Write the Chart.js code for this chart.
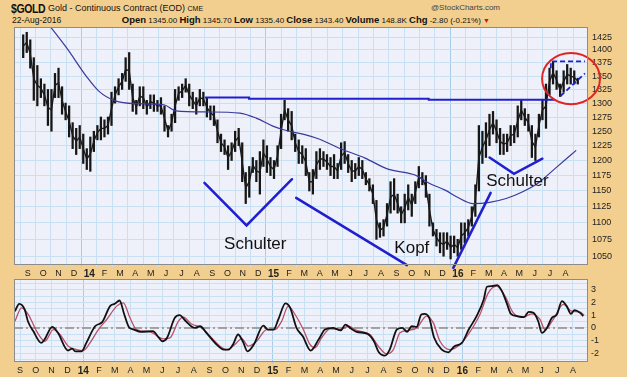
<!DOCTYPE html>
<html>
<head>
<meta charset="utf-8">
<script src="https://cdn.jsdelivr.net/npm/chart.js@4.4.1/dist/chart.umd.min.js"></script>
<style>
  body { margin: 0; width: 627px; height: 377px; overflow: hidden; position: relative;
         background: #f3cf8f; font-family: "Liberation Sans", Arial, sans-serif; }
  canvas { position: absolute; left: 0; }
  #main { top: 0; }
  #osc { top: 268px; }
  .t { position: absolute; white-space: nowrap; color: #111; }
  .t b { font-size: 9.5px; }
</style>
</head>
<body>
<div class="t" style="left:11px;top:1px;font-size:10.5px;font-weight:bold;letter-spacing:-0.4px;transform:scaleY(1.15);transform-origin:0 0">$GOLD</div>
<div class="t" style="left:48px;top:3px;font-size:9px">Gold - Continuous Contract (EOD) <span style="font-size:7px">CME</span></div>
<div class="t" style="left:431px;top:3px;font-size:8px;color:#444">@StockCharts.com</div>
<div class="t" style="left:12px;top:15px;font-size:8.5px">22-Aug-2016</div>
<div class="t" style="right:137px;top:14px;font-size:8px"><b>Open</b> 1345.00 <b>High</b> 1345.70 <b>Low</b> 1335.40 <b>Close</b> 1343.40 <b>Volume</b> 148.8K <b>Chg</b> -2.80 (-0.21%) <span style="color:#d01010;font-size:7px">&#9660;</span></div>

<canvas id="main" width="627" height="280" style="width:627px;height:280px"></canvas>
<canvas id="osc" width="627" height="109" style="width:627px;height:109px"></canvas>

<script>
// x unit: months since 1 Sep 2013
const tickLabels = ["S","O","N","D","14","F","M","A","M","J","J","A",
                    "S","O","N","D","15","F","M","A","M","J","J","A",
                    "S","O","N","D","16","F","M","A","M","J","J","A"]
const priceTicks = [1050,1075,1100,1125,1150,1175,1200,1225,1250,1275,1300,1325,1350,1375,1400,1425]
const oscTicks = [-2.5,-2,-1.5,-1,-0.5,0,0.5,1,1.5,2,2.5,3,3.5]

// weekly high / low, first week ending 23 Aug 2013
const weekStart = -0.3
const weekHigh = [1430,1435,1420,1385,1370,1345,1335,1325,1325,1355,1365,1330,1300,1295,1265,1255,1260,1245,1220,1240,
  1250,1260,1275,1270,1275,1320,1330,1345,1355,1385,1395,1335,1305,1330,1330,1305,1315,1315,1305,1310,
  1295,1260,1280,1325,1330,1335,1345,1335,1320,1310,1325,1320,1310,1295,1295,1270,1245,1235,1225,1230,
  1250,1255,1230,1180,1190,1205,1200,1215,1235,1225,1205,1200,1225,1280,1305,1290,1285,1245,1235,1225,
  1220,1180,1185,1215,1220,1215,1210,1205,1210,1195,1230,1232,1210,1200,1195,1205,1200,1180,1170,1160,
  1135,1100,1105,1130,1165,1170,1145,1125,1145,1160,1145,1165,1190,1180,1175,1145,1100,1090,1085,1085,
  1085,1080,1080,1075,1100,1100,1105,1125,1160,1260,1250,1265,1280,1285,1270,1255,1245,1245,1260,1260,
  1295,1305,1290,1280,1260,1245,1280,1305,1335,1365,1378,1360,1335,1360,1372,1365,1360,1346]
const weekLow = [1385,1395,1365,1305,1295,1310,1295,1260,1250,1310,1310,1280,1270,1240,1220,1210,1220,1195,1185,1182,
  1215,1235,1235,1240,1245,1260,1300,1315,1325,1340,1325,1285,1280,1295,1290,1280,1290,1285,1285,1280,
  1250,1240,1250,1265,1305,1310,1320,1295,1290,1280,1295,1295,1275,1270,1260,1230,1215,1210,1185,1200,
  1215,1225,1165,1130,1140,1180,1165,1145,1190,1180,1175,1170,1190,1220,1270,1250,1235,1215,1195,1195,
  1175,1150,1145,1170,1185,1190,1185,1175,1170,1170,1185,1195,1180,1165,1170,1175,1170,1160,1150,1130,
  1075,1078,1080,1095,1115,1120,1115,1100,1100,1120,1110,1130,1155,1160,1140,1095,1080,1065,1055,1050,
  1060,1046,1055,1050,1060,1070,1080,1095,1110,1150,1195,1205,1225,1245,1230,1210,1210,1215,1225,1230,
  1240,1270,1260,1250,1205,1200,1240,1270,1255,1315,1335,1325,1312,1320,1335,1335,1335,1335]

// 200-day moving average
const maMonths = [-0.4,1.37,2.53,3.8,4.62,5.7,6.96,8.86,9.62,11.7,13.8,14.87,15.95,16.58,18.04,19,20.44,21.96,23.4,25.3,26.1,27.2,27.97,28.99,30.06,31.14,32.15,33.23,34.3,35.7]
const maValues = [1520,1450,1404,1350,1322,1304,1299,1297,1286,1284,1282,1273,1259,1253,1244,1236,1219,1204,1186,1175,1163,1151,1140,1130,1132,1138,1148,1163,1186,1217]

// momentum oscillator (black) and its signal line (red)
const oscMonths = [-0.32,-0.05,0.3,0.5,0.85,1.35,1.55,2.04,2.4,3.04,3.3,3.5,3.9,4.2,4.75,5.2,5.7,6.0,6.3,6.6,6.9,7.2,7.65,8.4,8.8,9.0,9.3,9.8,10.1,10.5,11.05,11.4,11.8,12.45,12.9,13.2,13.5,13.8,14.1,14.4,14.8,15.4,15.7,16.05,16.35,16.8,17.1,17.5,17.9,18.4,18.9,19.3,19.8,20.3,20.6,20.9,21.3,22,22.4,22.7,23.1,23.4,23.85,24.2,24.5,24.8,25.1,25.4,25.6,25.9,26.2,26.7,27.1,27.5,27.97,28.4,28.9,29.35,29.55,29.86,30.2,30.5,30.8,31.07,31.45,31.9,32.2,32.5,32.8,33.03,33.35,33.66,33.98,34.3,34.6,34.87,35.1,35.45,35.65]
const oscValues = [1.31,1.89,1.44,0.52,-0.27,-1.18,-0.92,0.08,-0.39,-1.78,-1.63,-1.84,-1.84,-1.18,0.13,0.45,1.71,1.89,2.15,1.05,0.05,-0.13,-0.31,-0.26,-0.79,-1.05,-0.79,0.79,1.0,0.52,0,0.13,-0.39,-1.31,-1.71,-1.71,-1.26,-0.52,-1.05,-1.84,-1.31,0.18,-0.13,-0.13,0.66,1.92,1.57,0,-0.66,-1.78,-0.92,-0.13,0,-0.2,0.26,0,-0.31,-0.47,-1.05,-1.89,-2.18,-1.71,-0.13,0,-0.31,0.13,0.08,1.05,1.1,0.79,-0.73,-1.71,-1.92,-1.44,-1.18,-0.13,0.92,2.23,3.23,3.28,3.36,2.89,1.97,1.1,0.92,0.84,1.26,1.18,0.52,-0.39,0,0.79,1.05,2.1,1.71,1.1,1.39,1.18,0.92]
const sigMonths = [-0.32,0.1,0.53,1.05,1.58,2.11,2.53,3.06,3.59,4.01,4.43,4.96,5.49,6.12,6.54,6.96,7.38,8.23,9.07,9.49,
  10.02,10.34,10.86,11.5,12.03,12.66,13.08,13.6,14.03,14.45,14.98,15.61,16.14,16.56,16.98,17.41,17.93,18.35,18.67,19.09,
  19.62,20.25,20.78,21.31,22.15,22.68,23.21,23.63,24.05,24.58,25.11,25.74,26.16,26.58,27.22,27.85,28.37,29.11,29.64,30.17,
  30.7,31.22,31.86,32.38,32.91,33.23,33.75,34.39,34.92,35.44,35.7]
const sigValues = [0.52,1.57,1.05,-0.26,-1.05,-0.13,-0.52,-1.44,-1.71,-1.78,-1.18,-0.13,0.66,1.71,1.97,0.79,-0.13,-0.31,-0.86,-0.79,
  0.52,0.84,0.31,0,-0.66,-1.44,-1.71,-1.31,-0.84,-1.44,-1.05,-0.13,-0.13,0.52,1.71,1.05,-0.13,-1.3,-1.57,-0.79,
  -0.08,-0.13,0.13,-0.2,-0.52,-1.44,-2.05,-1.71,-0.39,-0.2,0,0.92,0.39,-1.05,-1.71,-1.31,-0.52,1.05,2.75,3.28,
  2.49,1.18,0.84,1.1,0.66,-0.13,0.66,1.84,1.31,1.26,1.0]

// head & shoulders drawing, in (month, price)
const neckline = [[11.58,1310],[14.4,1310],[14.4,1308],[26.1,1308],[26.1,1306],[34.3,1306]]
const leftShoulderV = [[11.5,1163],[14.24,1096],[17.2,1169]]
const headLeftLine = [[17.47,1139],[24.68,1037]]
const headRightLine = [[27.7,1033],[30.13,1147]]
const rightShoulderV = [[30.06,1205],[31.65,1178],[33.5,1203]]
const wedgeTop = [[34.05,1365],[34.05,1378],[36.27,1378]]
const wedgeBottom = [[34.68,1313],[36.27,1355]]
const circleBox = [33.48, 37.25, 1298, 1394]
const labels = [["Schulter",14.81,1067],["Kopf",25.0,1061],["Schulter",31.87,1165]]

const weekX = i => weekStart + i * 7 / 30.44
const xMin = -0.38, xMax = 35.95
const tickFont = { family: "Liberation Sans, Arial", size: 9 }
const isYear = v => /^\d/.test(tickLabels[v] || "")

const plotFrame = {
  id: "plotFrame",
  beforeDraw(c) {
    const { ctx, chartArea: a } = c
    ctx.save()
    ctx.fillStyle = "#eef1f9"
    ctx.fillRect(a.left, a.top, a.width, a.height)
    ctx.restore()
  },
  afterDraw(c) {
    const { ctx, chartArea: a } = c
    ctx.save()
    ctx.strokeStyle = "#8c8c8c"
    ctx.lineWidth = 1
    ctx.strokeRect(a.left + 0.5, a.top + 0.5, a.width - 1, a.height - 1)
    ctx.restore()
  }
}

function xAxis() {
  return {
    type: "linear", min: xMin, max: xMax,
    afterBuildTicks: s => { s.ticks = tickLabels.map((_, i) => ({ value: i })) },
    afterFit: s => { s.height = 15 },
    grid: {
      color: ctx => ctx.tick && isYear(ctx.tick.value) ? "#a9cde9" : "#c9e0f2",
      tickLength: 2, drawTicks: true
    },
    border: { display: false },
    ticks: {
      autoSkip: false, maxRotation: 0, padding: 1, color: "#222",
      callback: v => tickLabels[v],
      font: ctx => ({ ...tickFont, weight: ctx.tick && isYear(ctx.tick.value) ? "bold" : "normal", size: ctx.tick && isYear(ctx.tick.value) ? 10 : 9 })
    }
  }
}

function path(ctx, c, pts) {
  const xs = c.scales.x, ys = c.scales.y
  ctx.beginPath()
  pts.forEach(([m, p], i) => {
    const X = xs.getPixelForValue(m), Y = ys.getPixelForValue(p)
    i ? ctx.lineTo(X, Y) : ctx.moveTo(X, Y)
  })
  ctx.stroke()
}

const pattern = {
  id: "pattern",
  afterDatasetsDraw(c) {
    const { ctx } = c
    const xs = c.scales.x, ys = c.scales.y
    ctx.save()
    ctx.strokeStyle = "#1f1fd0"
    ctx.lineCap = "round"
    ctx.lineWidth = 2
    path(ctx, c, neckline)
    ctx.lineWidth = 2.5
    ;[leftShoulderV, headLeftLine, headRightLine, rightShoulderV].forEach(p => path(ctx, c, p))
    ctx.lineWidth = 1.8
    ctx.lineCap = "butt"
    ctx.setLineDash([5, 3])
    path(ctx, c, wedgeTop)
    path(ctx, c, wedgeBottom)
    ctx.setLineDash([])
    const [m0, m1, p0, p1] = circleBox
    const x0 = xs.getPixelForValue(m0), x1 = xs.getPixelForValue(m1)
    const y0 = ys.getPixelForValue(p1), y1 = ys.getPixelForValue(p0)
    ctx.strokeStyle = "#e02424"
    ctx.lineWidth = 2
    ctx.beginPath()
    ctx.ellipse((x0 + x1) / 2, (y0 + y1) / 2, (x1 - x0) / 2, (y1 - y0) / 2, 0, 0, Math.PI * 2)
    ctx.stroke()
    ctx.fillStyle = "#111"
    ctx.font = "17px 'Liberation Sans', Arial"
    ctx.textAlign = "center"
    ctx.textBaseline = "middle"
    labels.forEach(([t, m, p]) => ctx.fillText(t, xs.getPixelForValue(m), ys.getPixelForValue(p)))
    ctx.restore()
  }
}

new Chart(document.getElementById("main"), {
  data: {
    datasets: [
      {
        type: "line", order: 1,
        data: maMonths.map((m, i) => ({ x: m, y: maValues[i] })),
        borderColor: "#3a3a9c", borderWidth: 1.2, pointRadius: 0, cubicInterpolationMode: "monotone"
      },
      {
        type: "line", order: 2,
        data: weekHigh.map((h, i) => ({ x: weekX(i), y: (h + weekLow[i]) / 2 })),
        borderColor: "#1a1a1a", borderWidth: 1.4, pointRadius: 0, tension: 0
      },
      {
        type: "bar", order: 3,
        data: weekHigh.map((h, i) => ({ x: weekX(i), y: [weekLow[i], h] })),
        backgroundColor: "#161616", barThickness: 1.6, grouped: false
      }
    ]
  },
  options: {
    responsive: false, animation: false,
    layout: { padding: { left: 14, top: 27, right: 0, bottom: 0 } },
    plugins: { legend: { display: false }, tooltip: { enabled: false } },
    scales: {
      x: xAxis(),
      y: {
        type: "logarithmic", position: "right", min: 1037.2, max: 1445.6,
        afterBuildTicks: s => { s.ticks = priceTicks.map(v => ({ value: v })) },
        afterFit: s => { s.width = 39 },
        grid: { color: "#c9e0f2", drawTicks: false },
        border: { display: false },
        ticks: { autoSkip: false, color: "#222", font: tickFont, padding: 4, callback: v => String(v) }
      }
    }
  },
  plugins: [plotFrame, pattern]
})

const zeroLine = {
  id: "zeroLine",
  beforeDatasetsDraw(c) {
    const { ctx, chartArea: a } = c
    const y = c.scales.y.getPixelForValue(0)
    ctx.save()
    ctx.strokeStyle = "#8a8a8a"
    ctx.lineWidth = 1.5
    ctx.setLineDash([9, 3, 2, 3])
    ctx.beginPath()
    ctx.moveTo(a.left, y)
    ctx.lineTo(a.right, y)
    ctx.stroke()
    ctx.restore()
  }
}

new Chart(document.getElementById("osc"), {
  type: "line",
  data: {
    datasets: [
      {
        data: oscMonths.map((m, i) => ({ x: m, y: oscValues[i] })),
        borderColor: "#111", borderWidth: 1.8, pointRadius: 0, cubicInterpolationMode: "monotone", order: 1
      },
      {
        data: sigMonths.map((m, i) => ({ x: m, y: sigValues[i] })),
        borderColor: "#b8506a", borderWidth: 1.3, pointRadius: 0, cubicInterpolationMode: "monotone", order: 2
      }
    ]
  },
  options: {
    responsive: false, animation: false,
    layout: { padding: { left: 14, top: 11, right: 0, bottom: 0 } },
    plugins: { legend: { display: false }, tooltip: { enabled: false } },
    scales: {
      x: xAxis(),
      y: {
        position: "right", min: -2.68, max: 3.84,
        afterBuildTicks: s => { s.ticks = oscTicks.map(v => ({ value: v })) },
        afterFit: s => { s.width = 39 },
        grid: { color: "#c9e0f2", drawTicks: false },
        border: { display: false },
        ticks: { autoSkip: false, color: "#222", font: tickFont, padding: 3, callback: v => Number.isInteger(v) ? String(v) : "" }
      }
    }
  },
  plugins: [plotFrame, zeroLine]
})
</script>
</body>
</html>
